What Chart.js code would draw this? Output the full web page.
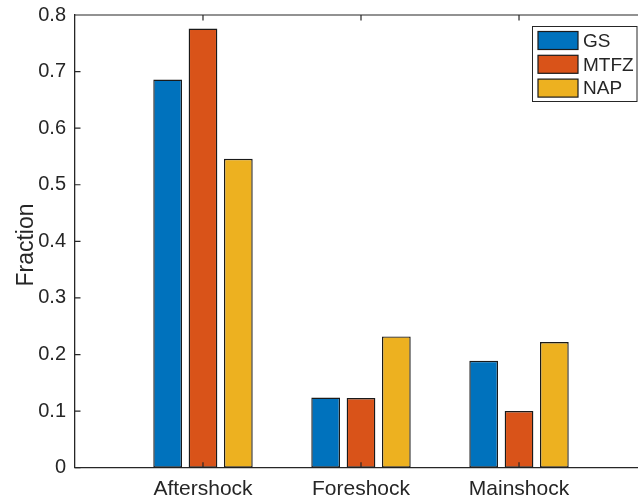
<!DOCTYPE html>
<html>
<head>
<meta charset="utf-8">
<script src="https://cdn.jsdelivr.net/npm/chart.js@4"></script>
<style>
  html, body { margin: 0; padding: 0; background: #fff; }
  #wrap { width: 638px; height: 500px; }
</style>
</head>
<body>
<div id="wrap"><canvas id="c" width="638" height="500"></canvas></div>
<script>
// Event categories (placed at x = 1, 2, 3) and per-zone fractions
const categories = ['Aftershock', 'Foreshock', 'Mainshock'];
const seriesNames = ['GS', 'MTFZ', 'NAP'];
const gsValues   = [0.686, 0.124, 0.189];
const mtfzValues = [0.776, 0.123, 0.100];
const napValues  = [0.546, 0.232, 0.222];
const yTicks = [0, 0.1, 0.2, 0.3, 0.4, 0.5, 0.6, 0.7, 0.8];
const yTitle = 'Fraction';

const colors = ['#0072BD', '#D95319', '#EDB120'];
const axisColor = '#262626';
const FONT = '"Liberation Sans", Arial, Helvetica, sans-serif';

function toPoints(vals) {
  return vals.map((v, i) => ({ x: i + 1, y: v }));
}

// Box top edge plus inward-pointing ticks, drawn over the bars
const framePlugin = {
  id: 'frame',
  afterDatasetsDraw(chart) {
    const { ctx, chartArea: a, scales } = chart;
    const len = 5.5;
    ctx.save();
    ctx.strokeStyle = axisColor;
    ctx.lineWidth = 1.2;
    ctx.beginPath();
    ctx.moveTo(a.left, a.top);
    ctx.lineTo(a.right, a.top);
    yTicks.forEach(v => {
      const y = scales.y.getPixelForValue(v);
      ctx.moveTo(a.left, y);
      ctx.lineTo(a.left + len, y);
    });
    categories.forEach((c, i) => {
      const x = scales.x.getPixelForValue(i + 1);
      ctx.moveTo(x, a.bottom);
      ctx.lineTo(x, a.bottom - len);
      ctx.moveTo(x, a.top);
      ctx.lineTo(x, a.top + len);
    });
    ctx.stroke();

    // vertical axis title
    ctx.translate(33, 245);
    ctx.rotate(-Math.PI / 2);
    ctx.font = '23px ' + FONT;
    ctx.fillStyle = axisColor;
    ctx.textAlign = 'center';
    ctx.textBaseline = 'alphabetic';
    ctx.fillText(yTitle, 0, 0);
    ctx.restore();
  }
};

// Boxed legend in the upper right corner
const legendPlugin = {
  id: 'boxLegend',
  afterDraw(chart) {
    const { ctx } = chart;
    const bx = 532.5, by = 26.5, bw = 104.5, bh = 75;
    ctx.save();
    ctx.fillStyle = '#fff';
    ctx.fillRect(bx, by, bw, bh);
    ctx.strokeStyle = axisColor;
    ctx.lineWidth = 1;
    ctx.strokeRect(bx, by, bw, bh);
    ctx.font = '19px ' + FONT;
    ctx.textBaseline = 'middle';
    chart.data.datasets.forEach((ds, i) => {
      const cy = 40.5 + i * 23.8;
      ctx.fillStyle = ds.backgroundColor;
      ctx.fillRect(538, cy - 9, 40, 18);
      ctx.strokeStyle = '#1a1a1a';
      ctx.lineWidth = 1.2;
      ctx.strokeRect(538, cy - 9, 40, 18);
      ctx.fillStyle = axisColor;
      ctx.fillText(ds.label, 583, cy + 1);
    });
    ctx.restore();
  }
};

const datasets = [gsValues, mtfzValues, napValues].map((vals, i) => ({
  label: seriesNames[i],
  data: toPoints(vals),
  backgroundColor: colors[i],
  borderColor: '#1a1a1a',
  borderWidth: 1.4,
  borderSkipped: false,
  categoryPercentage: 0.671,
  barPercentage: 0.813
}));

new Chart(document.getElementById('c'), {
  type: 'bar',
  data: { datasets },
  options: {
    responsive: false,
    animation: false,
    devicePixelRatio: 1,
    layout: { padding: { left: 0, right: 0, top: 15, bottom: 0 } },
    plugins: { legend: { display: false }, tooltip: { enabled: false } },
    scales: {
      x: {
        type: 'linear',
        offset: false,
        min: 0.19,
        max: 3.753,
        grid: { display: false, drawTicks: false, offset: false },
        border: { display: true, color: axisColor, width: 1.3 },
        afterBuildTicks(scale) {
          scale.ticks = categories.map((c, i) => ({ value: i + 1 }));
        },
        afterFit(scale) {
          scale.height = 32.3;
          scale.paddingLeft = 0;
          scale.paddingRight = 0;
        },
        ticks: {
          autoSkip: false,
          maxRotation: 0,
          padding: 9,
          color: axisColor,
          font: { family: FONT, size: 21 },
          callback: (v) => categories[Math.round(v) - 1] || ''
        }
      },
      y: {
        min: 0,
        max: 0.8,
        grid: { display: false, drawTicks: false },
        border: { display: true, color: axisColor, width: 1.3 },
        afterBuildTicks(scale) {
          scale.ticks = yTicks.map(v => ({ value: v }));
        },
        afterFit(scale) {
          scale.width = 75;
          scale.paddingTop = 0;
          scale.paddingBottom = 0;
        },
        ticks: {
          padding: 9,
          color: axisColor,
          font: { family: FONT, size: 20 },
          callback: (v) => String(+v.toFixed(1))
        }
      }
    }
  },
  plugins: [framePlugin, legendPlugin]
});
</script>
</body>
</html>
